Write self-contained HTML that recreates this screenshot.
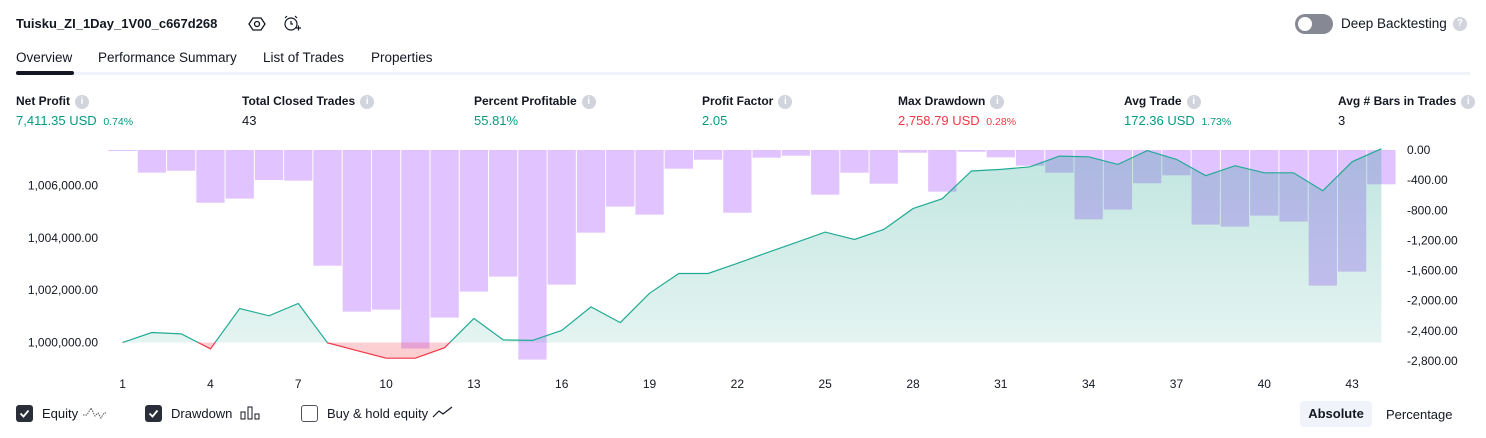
<!DOCTYPE html>
<html><head><meta charset="utf-8">
<style>
body{margin:0;width:1486px;height:438px;background:#fff;font-family:"Liberation Sans",sans-serif;color:#131722;position:relative;overflow:hidden}
.a{position:absolute;white-space:nowrap}
.info{display:inline-block;width:14px;height:14px;border-radius:7px;background:#d1d4dc;color:#fff;font-size:10px;text-align:center;line-height:14px;font-weight:bold;vertical-align:middle;margin-left:5px}
.lab{font-size:12px;font-weight:bold;color:#131722}
.val{font-size:13px;top:113px}
.g{color:#089981}.r{color:#f23645}
.cb{position:absolute;width:17px;height:17px;border-radius:3px;top:405px}
</style></head><body>
<div class="a" style="left:16px;top:16px;font-size:13px;font-weight:bold">Tuisku_ZI_1Day_1V00_c667d268</div>
<svg class="a" style="left:248px;top:15px" width="18" height="18" viewBox="0 0 18 18"><polygon points="5,3 13,3 17,9 13,15 5,15 1,9" fill="none" stroke="#131722" stroke-width="1.3"/><circle cx="9" cy="9" r="2.5" fill="none" stroke="#131722" stroke-width="1.3"/></svg>
<svg class="a" style="left:282px;top:14px" width="20" height="20" viewBox="0 0 20 20"><circle cx="9" cy="10" r="6" fill="none" stroke="#131722" stroke-width="1.2"/><path d="M9 7v3h2M3 4l2-2M15 4l-2-2M14 14h5M16.5 11.5v5" fill="none" stroke="#131722" stroke-width="1.2"/></svg>
<div class="a" style="left:1295px;top:14px;width:38px;height:20px;border-radius:10px;background:#868993"><div style="position:absolute;left:3px;top:3px;width:14px;height:14px;border-radius:7px;background:#fff"></div></div>
<div class="a" style="left:1341px;top:16px;font-size:13.5px">Deep Backtesting<span class="info" style="margin-left:6px">?</span></div>
<div class="a" style="left:16px;top:50px;font-size:13.5px">Overview</div>
<div class="a" style="left:98px;top:50px;font-size:13.5px">Performance Summary</div>
<div class="a" style="left:263px;top:50px;font-size:13.5px">List of Trades</div>
<div class="a" style="left:371px;top:50px;font-size:13.5px">Properties</div>
<div class="a" style="left:16px;top:72px;width:1454px;height:3px;background:#f0f3fa"></div>
<div class="a" style="left:16px;top:71px;width:58px;height:4px;border-radius:2px;background:#131722"></div>

<div class="a lab" style="left:16px;top:94px">Net Profit<span class="info">i</span></div>
<div class="a val g" style="left:16px">7,411.35 USD <span style="font-size:10.5px;margin-left:3px">0.74%</span></div>
<div class="a lab" style="left:242px;top:94px">Total Closed Trades<span class="info">i</span></div>
<div class="a val" style="left:242px">43</div>
<div class="a lab" style="left:474px;top:94px">Percent Profitable<span class="info">i</span></div>
<div class="a val g" style="left:474px">55.81%</div>
<div class="a lab" style="left:702px;top:94px">Profit Factor<span class="info">i</span></div>
<div class="a val g" style="left:702px">2.05</div>
<div class="a lab" style="left:898px;top:94px">Max Drawdown<span class="info">i</span></div>
<div class="a val r" style="left:898px">2,758.79 USD <span style="font-size:10.5px;margin-left:3px">0.28%</span></div>
<div class="a lab" style="left:1124px;top:94px">Avg Trade<span class="info">i</span></div>
<div class="a val g" style="left:1124px">172.36 USD <span style="font-size:10.5px;margin-left:3px">1.73%</span></div>
<div class="a lab" style="left:1338px;top:94px">Avg # Bars in Trades<span class="info">i</span></div>
<div class="a val" style="left:1338px">3</div>

<svg id="chart" class="a" style="left:0;top:0" width="1486" height="400"></svg>

<div class="cb" style="left:16px;background:#2a2e39"><svg width="17" height="17"><path d="M4.5 8.5l3 3 5-6" fill="none" stroke="#fff" stroke-width="1.8"/></svg></div>
<div class="a" style="left:42px;top:406px;font-size:13px">Equity <svg width="24" height="14" style="vertical-align:-2px"><path d="M1 9h4l4-7 4 8 3-3 3 5 3-5h2" fill="none" stroke="#555" stroke-width="1" stroke-dasharray="1.5 1"/></svg></div>
<div class="cb" style="left:145px;background:#2a2e39"><svg width="17" height="17"><path d="M4.5 8.5l3 3 5-6" fill="none" stroke="#fff" stroke-width="1.8"/></svg></div>
<div class="a" style="left:171px;top:406px;font-size:13px">Drawdown <svg width="22" height="14" style="vertical-align:-2px;margin-left:4px"><rect x="1" y="6" width="4" height="7" fill="none" stroke="#131722"/><rect x="8" y="1" width="4" height="12" fill="none" stroke="#131722"/><rect x="15" y="8" width="4" height="5" fill="none" stroke="#131722"/></svg></div>
<div class="cb" style="left:301px;border:1px solid #50535e;width:15px;height:15px"></div>
<div class="a" style="left:327px;top:406px;font-size:13px">Buy &amp; hold equity <svg width="22" height="12"><path d="M1 11l6-6 4 3 9-7" fill="none" stroke="#131722" stroke-width="1.2"/></svg></div>
<div class="a" style="left:1300px;top:401px;width:72px;height:26px;line-height:26px;text-align:center;background:#f0f3fa;border-radius:4px;font-size:13px;font-weight:bold">Absolute</div>
<div class="a" style="left:1386px;top:407px;font-size:13px">Percentage</div>

<script>
const tradeNumbers = Array.from({length:44},(_,i)=>i+1);
const drawdownValues = [-10,-300,-275,-700,-645,-398,-407,-1535,-2145,-2118,-2635,-2224,-1879,-1680,-2781,-1786,-1097,-752,-858,-248,-129,-832,-102,-76,-593,-301,-447,-36,-553,-23,-97,-208,-301,-920,-791,-442,-336,-990,-1017,-871,-950,-1800,-1614,-455];
const equityValues = [1000000,1000382,1000330,999760,1001300,1001020,1001490,999990,999690,999400,999400,999800,1000920,1000100,1000080,1000460,1001360,1000760,1001880,1002640,1002640,1003030,1003430,1003820,1004220,1003940,1004320,1005120,1005500,1006560,1006620,1006720,1007130,1007100,1006810,1007340,1007000,1006380,1006760,1006490,1006490,1005800,1006910,1007411];
const leftTicks = [1000000,1002000,1004000,1006000];
const rightTicks = [0,-400,-800,-1200,-1600,-2000,-2400,-2800];
const xTickLabels = [1,4,7,10,13,16,19,22,25,28,31,34,37,40,43];

const NS="http://www.w3.org/2000/svg";
const svg=document.getElementById('chart');
const X0=108, BW=(1396-108)/44;
const xC=i=>X0+BW*(i-0.5);
const yDD=v=>150+(-v)*(211/2800);
const yEq=v=>342.5-(v-1000000)*(52.3/2000);
function mk(t,a){const e=document.createElementNS(NS,t);for(const k in a)e.setAttribute(k,a[k]);svg.appendChild(e);return e;}
const defs=mk('defs',{});
defs.innerHTML='<linearGradient id="gg" x1="0" y1="0" x2="0" y2="1"><stop offset="0" stop-color="#089981" stop-opacity="0.25"/><stop offset="1" stop-color="#089981" stop-opacity="0.1"/></linearGradient><linearGradient id="rg" x1="0" y1="0" x2="0" y2="1"><stop offset="0" stop-color="#f23645" stop-opacity="0.0"/><stop offset="1" stop-color="#f23645" stop-opacity="0.25"/></linearGradient><clipPath id="ca"><rect x="0" y="0" width="1486" height="'+yEq(1000000)+'"/></clipPath><clipPath id="cb"><rect x="0" y="'+yEq(1000000)+'" width="1486" height="200"/></clipPath>';
drawdownValues.forEach((v,i)=>{
  const x=X0+BW*i+0.5;
  const r=mk('rect',{x:x,y:150,width:BW-1,height:Math.max(1,yDD(v)-150),fill:'#e1c3ff'});
  
  
});
const base=yEq(1000000);
let pts=equityValues.map((v,i)=>xC(i+1).toFixed(1)+','+yEq(v).toFixed(1)).join(' ');
const area='M'+xC(1)+','+base+' L'+pts+' L'+xC(equityValues.length)+','+base+' Z';
const fa=mk('path',{d:area,fill:'url(#gg)','clip-path':'url(#ca)'});


const fb=mk('path',{d:area,fill:'url(#rg)','clip-path':'url(#cb)'});


const la=mk('polyline',{points:pts,fill:'none',stroke:'#22ab94','stroke-width':1.2,'clip-path':'url(#ca)'});


const lb=mk('polyline',{points:pts,fill:'none',stroke:'#f23645','stroke-width':1.2,'clip-path':'url(#cb)'});


leftTicks.forEach(v=>{
  const t=mk('text',{x:98,y:yEq(v)+4,'text-anchor':'end','font-size':12,fill:'#131722','font-family':'Liberation Sans, sans-serif'});
  t.textContent=v.toLocaleString('en-US')+'.00';
  
  
});
rightTicks.forEach(v=>{
  const t=mk('text',{x:1407,y:yDD(v)+4,'font-size':12,fill:'#131722','font-family':'Liberation Sans, sans-serif'});
  t.textContent=(v===0?'0.00':'-'+Math.abs(v).toLocaleString('en-US')+'.00');
  
  
});
xTickLabels.forEach(k=>{
  const t=mk('text',{x:xC(k),y:388,'text-anchor':'middle','font-size':12,fill:'#131722','font-family':'Liberation Sans, sans-serif'});
  t.textContent=k;
  
  
});
</script>
</body></html>
